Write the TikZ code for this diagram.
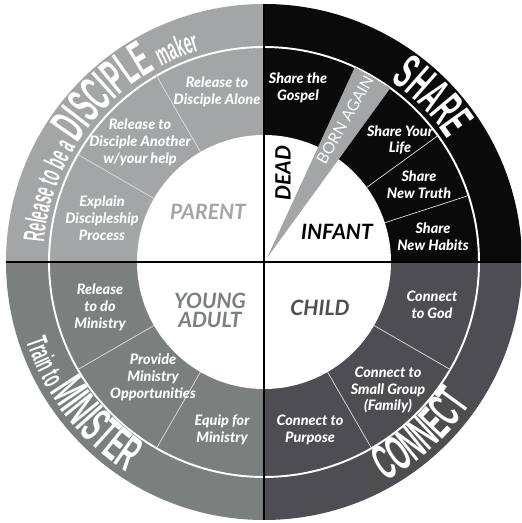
\documentclass[tikz,border=0pt]{standalone}
\usepackage{fontspec}
\setmainfont{Lato}
\newfontfamily\heavyfont{Lato Black Italic}
\newfontfamily\condfont[FakeStretch=0.47]{Liberation Sans Bold}
\usetikzlibrary{decorations.text}

\definecolor{parentgray}{HTML}{A4A5A7}
\definecolor{adultgray}{HTML}{7B7F7E}
\definecolor{childgray}{HTML}{4E4E52}
\definecolor{sharegray}{HTML}{0A0A0A}

\newcommand\bigcond{\condfont\fontsize{28.5}{28}\selectfont}
\newcommand\smallcond{\condfont\fontsize{17}{17}\selectfont}

\begin{document}
\begin{tikzpicture}[x=0.02cm, y=0.02cm,
    item/.style={white, align=center, font=\heavyfont\fontsize{8.2}{9.6}\selectfont},
    stage/.style={align=center, font=\fontsize{12}{10.8}\selectfont\bfseries\itshape},
    divider/.style={white!75!gray, line width=0.4pt},
    curved/.style={decorate, decoration={text along path, text color=white, text={#1}}}]
    \useasboundingbox (-264,-261) rectangle (257,262);
    \clip (-264,-261) rectangle (257,262);

    % four quadrants
    \fill[parentgray] (0,0) -- (90:258) arc[start angle=90, end angle=180, radius=258] -- cycle;
    \fill[adultgray] (0,0) -- (180:258) arc[start angle=180, end angle=270, radius=258] -- cycle;
    \fill[childgray] (0,0) -- (270:258) arc[start angle=270, end angle=360, radius=258] -- cycle;
    \fill[sharegray] (0,0) -- (0:258) arc[start angle=0, end angle=90, radius=258] -- cycle;

    \fill[white] (0,0) circle[radius=127];
    \draw[white, line width=1.1pt] (0,0) circle[radius=215];

    \foreach \a in {18,36,120,150,210,240,300,330}
        \draw[divider] (\a:127) -- (\a:215);

    % born again wedge
    \fill[parentgray] (3,4) -- (65:215) -- (54:215) -- cycle;

    \draw[black, line width=0.75pt] (-258,0) -- (258,0);
    \draw[black, line width=0.75pt] (0,-258) -- (0,258);

    % ring items
    \node[item] (alone) at (-47,170) {Release to\\Disciple Alone};
    \node[item] (another) at (-124,120) {Release to\\Disciple Another\\w/your help};
    \node[item] (explain) at (-162,44) {Explain\\Discipleship\\Process};

    \node[item] (gospel) at (34,174) {Share the\\Gospel};
    \node[item] (life) at (136,122) {Share Your\\Life};
    \node[item] (truth) at (155,77) {Share\\New Truth};
    \node[item] (habits) at (169,25) {Share\\New Habits};

    \node[item] (god) at (168,-43) {Connect\\to God};
    \node[item] (group) at (124,-128) {Connect to\\Small Group\\(Family)};
    \node[item] (purpose) at (46,-168) {Connect to\\Purpose};

    \node[item] (ministry) at (-164,-45) {Release\\to do\\Ministry};
    \node[item] (provide) at (-111,-115) {Provide\\Ministry\\Opportunities};
    \node[item] (equip) at (-42,-168) {Equip for\\Ministry};

    % stages
    \node[stage, parentgray] (parent) at (-56,50) {PARENT};
    \node[stage, adultgray] (adult) at (-54,-48) {YOUNG\\ADULT};
    \node[stage, childgray] (child) at (56,-46) {CHILD};
    \node[stage] (infant) at (73,30) {INFANT};
    \node[stage, rotate=90] (dead) at (19,89) {DEAD};
    \node[white, rotate=60, font=\fontsize{9}{9}\selectfont] (born) at (81,142) {BORN AGAIN};

    % curved titles
    \path[curved={|\smallcond|Release to be a |\bigcond|DISCIPLE |\smallcond|maker}]
        (175:221) arc[start angle=175, end angle=80, radius=221];
    \path[curved={|\bigcond|SHARE}]
        (55:221) arc[start angle=55, end angle=20, radius=221];
    \path[curved={|\bigcond|CONNECT}]
        (-61:251) arc[start angle=-61, end angle=-15, radius=251];
    \path[curved={|\smallcond|Train to |\bigcond|MINISTER}]
        (198.5:251) arc[start angle=198.5, end angle=255, radius=251];
\end{tikzpicture}
\end{document}
